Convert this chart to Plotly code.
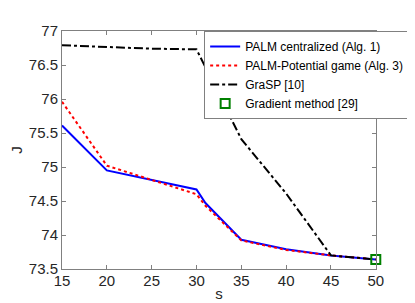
import plotly.graph_objects as go

s_palm = [15, 20, 30, 31, 35, 40, 45, 50]
j_central = [75.61, 74.95, 74.67, 74.47, 73.93, 73.79, 73.70, 73.64]
j_potential = [75.96, 75.02, 74.60, 74.43, 73.92, 73.78, 73.70, 73.64]
s_grasp = [15, 20, 25, 30, 35, 40, 45, 50]
j_grasp = [76.79, 76.76, 76.74, 76.73, 75.41, 74.61, 73.70, 73.64]
s_grad = [50]
j_grad = [73.64]

font = "Liberation Sans, Arial, Helvetica, sans-serif"
txt = "#262626"
axc = "#808080"

fig = go.Figure()
fig.add_trace(go.Scatter(x=s_palm, y=j_central, mode="lines",
                         line=dict(color="#0000ff", width=2),
                         name="PALM centralized (Alg. 1)"))
fig.add_trace(go.Scatter(x=s_palm, y=j_potential, mode="lines",
                         line=dict(color="#ff0000", width=2, dash="dot"),
                         name="PALM-Potential game (Alg. 3)"))
fig.add_trace(go.Scatter(x=s_grasp, y=j_grasp, mode="lines",
                         line=dict(color="#000000", width=2, dash="dashdot"),
                         name="GraSP [10]"))
fig.add_trace(go.Scatter(x=s_grad, y=j_grad, mode="markers", cliponaxis=False,
                         marker=dict(symbol="square-open", size=9, color="#008000",
                                     line=dict(width=2, color="#008000")),
                         name="Gradient method [29]"))

axis_common = dict(showline=True, linecolor=axc, linewidth=1, mirror="ticks",
                   ticks="inside", ticklen=4, tickcolor=axc, showgrid=False,
                   zeroline=False, tickfont=dict(family=font, size=15, color=txt))

fig.update_layout(
    width=415, height=303,
    margin=dict(l=54, r=2, t=23, b=42),
    paper_bgcolor="white", plot_bgcolor="white",
    font=dict(family=font, color=txt),
    xaxis=dict(range=[15, 50], tickvals=[15, 20, 25, 30, 35, 40, 45, 50],
               domain=[0, 0.894],
               ticklabelstandoff=-2,
               title=dict(text="s", font=dict(family=font, size=15, color=txt), standoff=0),
               **axis_common),
    yaxis=dict(range=[73.5, 77], tickvals=[73.5, 74, 74.5, 75, 75.5, 76, 76.5, 77],
               ticktext=["73.5", "74", "74.5", "75", "75.5", "76", "76.5", "77"],
               title=dict(text="J", font=dict(family=font, size=15, color=txt), standoff=4),
               **axis_common),
    legend=dict(x=0.405, y=1.0, xanchor="left", yanchor="top",
                bgcolor="white", bordercolor=axc, borderwidth=1,
                font=dict(family=font, size=12, color="#000000"),
                tracegroupgap=0, itemwidth=30),
    showlegend=True,
)

fig.write_html("out.html")
